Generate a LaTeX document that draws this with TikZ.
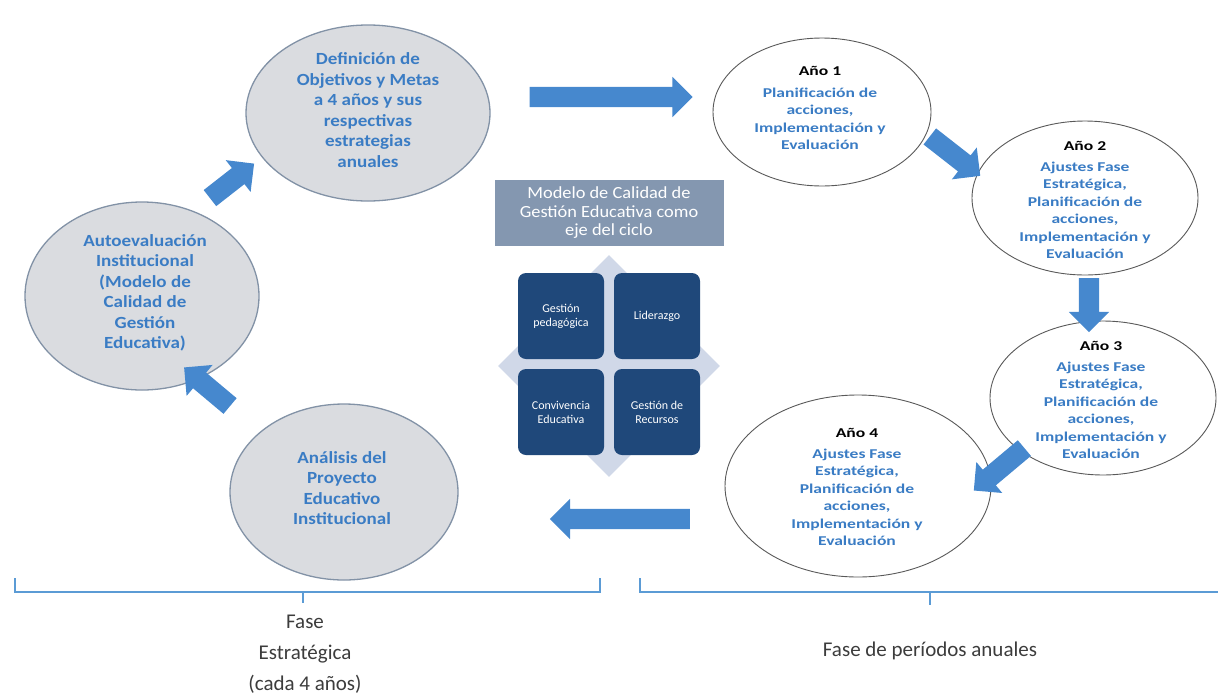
\documentclass[tikz,border=0pt]{standalone}
\usepackage{fontspec}
\setmainfont{Carlito}
\newfontfamily\bigEfont[FakeStretch=1.12]{Carlito}
\newfontfamily\yearfont[FakeStretch=1.3]{Carlito}
\newfontfamily\titlefont[FakeStretch=1.08]{Carlito}
\usetikzlibrary{shapes.geometric,shapes.arrows}
\definecolor{arrblue}{RGB}{70,136,206}
\definecolor{txtblue}{RGB}{58,124,196}
\definecolor{ellgray}{RGB}{218,220,224}
\definecolor{ellborder}{RGB}{130,146,166}
\definecolor{titlegray}{RGB}{132,151,176}
\definecolor{diamondc}{RGB}{208,216,232}
\definecolor{sqblue}{RGB}{31,72,122}
\definecolor{bracketc}{RGB}{91,155,213}
\definecolor{labelgray}{RGB}{60,60,60}
\begin{document}
\begin{tikzpicture}[x=1pt,y=-1pt,
  grayell/.style={ellipse, draw=ellborder, fill=ellgray, line width=1.3pt, inner sep=0pt},
  whiteell/.style={ellipse, draw=black!65, fill=white, line width=0.9pt, inner sep=0pt},
  etext/.style={font=\bigEfont\bfseries\fontsize{17}{20.5}\selectfont, text=txtblue, align=center, inner sep=0pt},
  ytext/.style={font=\yearfont\bfseries\fontsize{13.5}{17.5}\selectfont, text=txtblue, align=center, inner sep=0pt},
  barrow/.style={single arrow, fill=arrblue, draw=none, inner sep=0pt, text height=20pt, text depth=0pt, text width=0pt, single arrow head extend=10pt, single arrow tip angle=90, minimum width=40pt},
  sq/.style={rounded corners=8pt, fill=sqblue, minimum size=86pt, inner sep=0pt, text=white, font=\fontsize{12}{14}\selectfont, align=center},
  bracket/.style={draw=bracketc, line width=2pt},
  blabel/.style={text=labelgray, font=\fontsize{21}{31}\selectfont, align=center, inner sep=0pt}
]
\useasboundingbox (0,0) rectangle (1218,694);

% strategic phase ellipses
\node[grayell, minimum width=244pt, minimum height=176pt] (def) at (368,113) {};
\node[etext] (defT) at (368,110) {Definición de\\Objetivos y Metas\\a 4 años y sus\\respectivas\\estrategias\\anuales};

\node[grayell, minimum width=234pt, minimum height=188pt] (auto) at (142,296) {};
\node[etext] (autoT) at (145,293) {Autoevaluación\\Institucional\\(Modelo de\\Calidad de\\Gestión\\Educativa)};

\node[grayell, minimum width=228pt, minimum height=176pt] (ana) at (344,492) {};
\node[etext] (anaT) at (342,488) {Análisis del\\Proyecto\\Educativo\\Institucional};

% annual ellipses
\node[whiteell, minimum width=218pt, minimum height=148pt] (y1) at (822,112) {};
\node[ytext] (y1T) at (820,108) {\textcolor{black}{Año 1}\\[4pt]Planificación de\\acciones,\\Implementación y\\Evaluación};

\node[whiteell, minimum width=226pt, minimum height=154pt] (y2) at (1085,198) {};
\node[ytext] (y2T) at (1085,200) {\textcolor{black}{Año 2}\\[3pt]Ajustes Fase\\Estratégica,\\Planificación de\\acciones,\\Implementación y\\Evaluación};

\node[whiteell, minimum width=226pt, minimum height=154pt] (y3) at (1103,398) {};
\node[ytext] (y3T) at (1101,400) {\textcolor{black}{Año 3}\\[3pt]Ajustes Fase\\Estratégica,\\Planificación de\\acciones,\\Implementación y\\Evaluación};

\node[whiteell, minimum width=266pt, minimum height=182pt] (y4) at (858,486) {};
\node[ytext] (y4T) at (857,487) {\textcolor{black}{Año 4}\\[3pt]Ajustes Fase\\Estratégica,\\Planificación de\\acciones,\\Implementación y\\Evaluación};

% central model
\node[fill=titlegray, minimum width=229pt, minimum height=66pt, inner sep=0pt, text=white, font=\titlefont\fontsize{17}{18.5}\selectfont, align=center] (title) at (609,213) {Modelo de Calidad de\\Gestión Educativa como\\eje del ciclo};
\node[diamond, fill=diamondc, minimum width=222pt, minimum height=222pt, inner sep=0pt] (dia) at (609,366) {};
\node[sq] (gp) at (561,316) {Gestión\\pedagógica};
\node[sq] (lid) at (657,316) {Liderazgo};
\node[sq] (conv) at (561,412) {Convivencia\\Educativa};
\node[sq] (rec) at (657,412) {Gestión de\\Recursos};

% block arrows
\node[barrow, minimum height=163pt] (a1) at (606,97) {};
\node[barrow, minimum height=64pt, rotate=-38] (a2) at (951,153) {};
\node[barrow, minimum height=54pt, rotate=-90] (a3) at (1089,300) {};
\node[barrow, minimum height=66pt, rotate=-140] (a4) at (1003,466) {};
\node[barrow, minimum height=140pt, rotate=180] (a5) at (625,519) {};
\node[barrow, minimum height=60pt, rotate=140] (a6) at (211,390) {};
\node[barrow, minimum height=56pt, rotate=38] (a7) at (228,184) {};

% brackets
\draw[bracket] (15,578) -- (15,592) -- (600,592) -- (600,578);
\draw[bracket] (303,592) -- (303,603);
\draw[bracket] (640,578) -- (640,592) -- (1218,592);
\draw[bracket] (930,592) -- (930,605);

\node[blabel] (fe) at (305,654) {Fase\\Estratégica\\(cada 4 años)};
\node[blabel] (fa) at (930,651) {Fase de períodos anuales};
\end{tikzpicture}
\end{document}
